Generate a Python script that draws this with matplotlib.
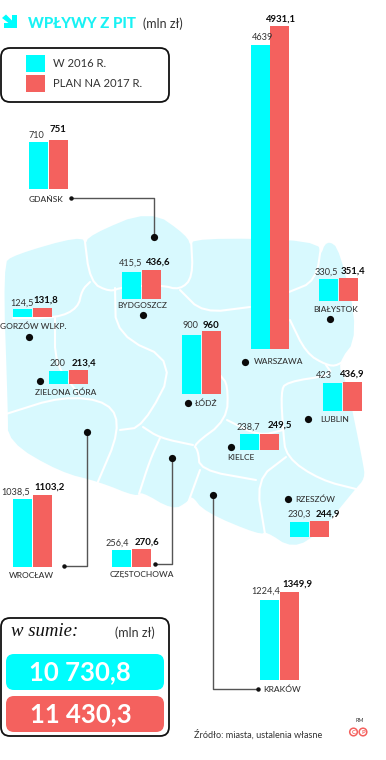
import matplotlib
matplotlib.use("Agg")
import matplotlib.pyplot as plt
from matplotlib.patches import FancyBboxPatch, Polygon, Circle

plt.rcParams['font.family'] = ['Lato', 'DejaVu Sans']

# --- data ---
cities = ["GDAŃSK", "BYDGOSZCZ", "GORZÓW WLKP.", "ZIELONA GÓRA", "ŁÓDŹ", "WARSZAWA", "BIAŁYSTOK",
          "LUBLIN", "KIELCE", "RZESZÓW", "WROCŁAW", "CZĘSTOCHOWA", "KRAKÓW"]
v2016 = [710, 415.5, 124.5, 200, 900, 4639, 330.5, 423, 238.7, 230.3, 1038.5, 256.4, 1224.4]
v2017 = [751, 436.6, 131.8, 213.4, 960, 4931.1, 351.4, 436.9, 249.5, 244.9, 1103.2, 270.6, 1349.9]
total_2016 = "10 730,8"
total_2017 = "11 430,3"
legend_labels = ["W 2016 R.", "PLAN NA 2017 R."]

# --- layout (pixels) ---
W, H = 386, 760
CY, RD, MAP = "#00FDFD", "#F4615E", "#D8F9FE"
PX = 0.0655
BW = 19
bar_left = [29, 122, 13, 49, 182, 250.5, 319, 323, 240, 290, 13, 112, 260]
bar_base = [189, 299, 317, 384, 394, 349, 301, 411, 450, 537, 567, 567, 680]
lab16 = [(36, 136), (131, 263), (22, 303), (57, 363.5), (190, 326), (263, 37.5), (326, 272),
         (324, 376), (248, 427), (299, 514), (16, 492), (117, 543), (266, 591)]
lab17 = [(58, 130), (157, 262), (46, 300), (84, 363.5), (211, 325), (280, 19), (353, 271),
         (351, 374), (280, 425), (328, 514), (50, 487), (147, 542), (297, 584)]
lab_city = [(46, 199), (142, 305.5), (33, 326), (66, 392), (206, 403), (278.5, 362), (336, 310),
            (335, 419), (241, 458), (315, 499), (31, 575), (142, 575), (282, 689)]
dots = [(154, 236.5), (143, 315), (28.5, 336.5), (40, 381), (188, 403), (244.7, 362), (329.7, 319),
        (308, 418.5), (231, 446.5), (288, 499), (86.5, 431.5), (172, 458), (212.5, 495)]
leaders = [([72, 154, 154], [198, 198, 236]),
           ([86.5, 86.5, 64], [431, 566, 566]),
           ([172, 172, 155], [458, 564, 564]),
           ([212.5, 212.5, 258], [495, 689, 689])]

hull = [(4, 265), (14, 256), (80, 237), (86, 246), (90, 236), (150, 211), (186, 236), (190, 248), (196, 239),
        (316, 241), (321, 258), (327, 241), (339, 250), (358, 335), (336, 364), (345, 380), (362, 463),
        (364, 478), (354, 489), (320, 531), (293, 548), (266, 530), (260, 534), (205, 511), (192, 494),
        (187, 501), (173, 509), (141, 490), (137, 496), (100, 481), (60, 471), (9, 441), (9, 412)]
borders = [[(84, 234), (90, 282), (110, 292), (122, 287), (161, 285), (180, 290), (193, 277), (191, 238)],
           [(90, 282), (82, 290), (78, 308), (57, 318), (13, 318)],
           [(55, 318), (55, 365), (80, 395)],
           [(6, 414), (63, 396), (110, 402), (120, 430), (97, 484)],
           [(115, 288), (116, 335), (177, 362), (143, 427), (120, 430)],
           [(180, 290), (203, 313), (250, 307)],
           [(289, 292), (316, 281), (322, 240)],
           [(290, 320), (306, 353), (326, 365), (338, 366), (354, 352)],
           [(326, 365), (333, 375), (286, 382), (281, 392), (283, 430), (286, 457), (320, 480), (360, 490)],
           [(286, 457), (256, 480), (265, 534)],
           [(256, 480), (200, 470), (198, 450), (193, 445), (227, 420), (228, 385), (220, 375)],
           [(227, 420), (259, 436), (283, 430)],
           [(143, 427), (160, 438), (193, 445)],
           [(160, 438), (150, 460), (139, 494)],
           [(200, 470), (188, 503)]]


def smooth(pts, closed=False, n=2):
    """Round the corners of a hand-traced outline by corner cutting."""
    for _ in range(n):
        out = [] if closed else [pts[0]]
        m = len(pts)
        for i in range(m if closed else m - 1):
            a, b = pts[i], pts[(i + 1) % m]
            out.append((0.75 * a[0] + 0.25 * b[0], 0.75 * a[1] + 0.25 * b[1]))
            out.append((0.25 * a[0] + 0.75 * b[0], 0.25 * a[1] + 0.75 * b[1]))
        if not closed:
            out.append(pts[-1])
        pts = out
    return pts


fig = plt.figure(figsize=(W / 100, H / 100), dpi=100)
ax = fig.add_axes([0, 0, 1, 1])
ax.set_xlim(0, W)
ax.set_ylim(H, 0)
ax.axis("off")

# map
ax.add_patch(Polygon(smooth(hull, closed=True), closed=True, fc=MAP, ec=MAP, lw=1.5, joinstyle="round", zorder=1))
for b in borders:
    ax.plot(*zip(*smooth(b)), color="white", lw=1.5, solid_joinstyle="round", solid_capstyle="round", zorder=2)

# leaders and points
for xs, ys in leaders:
    ax.plot(xs, ys, color="#555555", lw=1.0, zorder=3)
for s in [(71, 198), (64, 566), (155, 564), (258, 689)]:
    ax.plot(*s, "o", color="#111111", ms=2.2, zorder=4)
for d in dots:
    ax.plot(*d, "o", color="#0a0a0a", ms=5.2, mew=0, zorder=4)

# bars
bar_h16 = [v * PX for v in v2016]
bar_h17 = [v * PX for v in v2017]
ax.bar(bar_left, [-h for h in bar_h16], bottom=bar_base, width=BW, align="edge", color=CY, zorder=5)
ax.bar([x + BW + 0.6 for x in bar_left], [-h for h in bar_h17], bottom=bar_base, width=BW, align="edge",
       color=RD, zorder=5)


def fmt(v):
    return f"{v:g}".replace(".", ",")


for i, c in enumerate(cities):
    ax.text(*lab16[i], fmt(v2016[i]), ha="center", va="center", fontsize=6.6, color="#333333", zorder=6)
    ax.text(*lab17[i], fmt(v2017[i]), ha="center", va="center", fontsize=6.9, color="#0a0a0a",
            fontweight="bold", zorder=6)
    ax.text(*lab_city[i], c, ha="center", va="center", fontsize=6.0, color="#333333", fontweight="medium", zorder=6)

# title
ax.add_patch(Polygon([(2, 18), (6, 14.5), (12, 20.5), (12, 15), (17, 15), (17, 28), (4, 28), (4, 23), (8.5, 23)],
                     closed=True, fc=CY, ec="none", zorder=3))
ax.text(27.5, 24, "WPŁYWY Z PIT", ha="left", va="center", fontsize=10.8, fontweight="black", color="#19F2F4")
ax.text(143, 24, "(mln zł)", ha="left", va="center", fontsize=9, color="#333333")


def box(x0, y0, x1, y1, fc, ec, lw, r):
    ax.add_patch(FancyBboxPatch((x0 + r, y0 + r), x1 - x0 - 2 * r, y1 - y0 - 2 * r,
                                boxstyle=f"round,pad={r},rounding_size={r}", fc=fc, ec=ec, lw=lw, zorder=7))


# legend
box(1, 48, 169, 102, "white", "#111111", 1.3, 9)
for y0, col, t in [(55, CY, legend_labels[0]), (75, RD, legend_labels[1])]:
    ax.add_patch(plt.Rectangle((26, y0), 19, 17, fc=col, ec="none", zorder=8))
    ax.text(53, y0 + 8.5, t, ha="left", va="center", fontsize=8.1, color="#333333", zorder=8)

# totals
box(1, 618, 169, 736, "white", "#111111", 1.3, 9)
ax.text(11, 632, "w sumie:", family="Liberation Serif", style="italic", fontsize=13.5, ha="left", va="center",
        color="#111111", zorder=8)
ax.text(135, 633, "(mln zł)", ha="center", va="center", fontsize=9, color="#333333", zorder=8)
box(6, 654, 164, 690, CY, "none", 0, 8)
box(6, 696, 164, 732, RD, "none", 0, 8)
ax.text(80, 672.5, total_2016, ha="center", va="center", fontsize=18.5, fontweight="bold", color="white", zorder=9)
ax.text(81, 714.5, total_2017, ha="center", va="center", fontsize=18.5, fontweight="bold", color="white", zorder=9)

# source
ax.text(194, 734.5, "Źródło: miasta, ustalenia własne", ha="left", va="center", fontsize=6.6, color="#333333")
ax.text(360, 721, "RM", ha="center", va="center", fontsize=4, color="#333333")
for x, t in [(353.5, "C"), (363, "P")]:
    ax.add_patch(Circle((x, 732), 3.8, fc="white", ec=RD, lw=1.1))
    ax.text(x, 732, t, ha="center", va="center", fontsize=4.2, fontweight="bold", color=RD)

fig.savefig("out.png", dpi=100, facecolor="white")
